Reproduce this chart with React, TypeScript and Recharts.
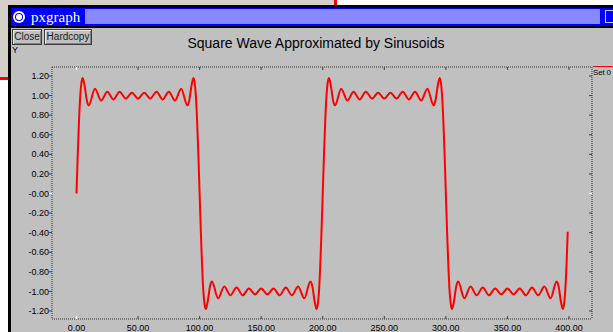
import React from 'react'
import { LineChart, Line, XAxis, YAxis } from 'recharts'

// first high half-cycle (x 0..99)
const seg1X = [0, 1, 2, 3, 4, 5, 6, 7, 8, 9, 10, 15, 20, 25, 30, 35, 40, 45, 50, 55, 60, 65, 70, 75, 80, 85, 90, 91, 92, 93, 94, 95, 96, 97, 98, 99]
const seg1Y = [0.0, 0.39, 0.73, 0.99, 1.13, 1.18, 1.14, 1.07, 0.98, 0.92, 0.9, 1.07, 0.95, 1.04, 0.96, 1.04, 0.97, 1.03, 0.97, 1.03, 0.97, 1.04, 0.96, 1.04, 0.95, 1.07, 0.9, 0.92, 0.98, 1.07, 1.14, 1.18, 1.13, 0.99, 0.73, 0.39]

// first low half-cycle (x 100..199)
const seg2X = [100, 101, 102, 103, 104, 105, 106, 107, 108, 109, 110, 115, 120, 125, 130, 135, 140, 145, 150, 155, 160, 165, 170, 175, 180, 185, 190, 191, 192, 193, 194, 195, 196, 197, 198, 199]
const seg2Y = [0.0, -0.39, -0.73, -0.99, -1.13, -1.18, -1.14, -1.07, -0.98, -0.92, -0.9, -1.07, -0.95, -1.04, -0.96, -1.04, -0.97, -1.03, -0.97, -1.03, -0.97, -1.04, -0.96, -1.04, -0.95, -1.07, -0.9, -0.92, -0.98, -1.07, -1.14, -1.18, -1.13, -0.99, -0.73, -0.39]

// second high half-cycle (x 200..299)
const seg3X = [200, 201, 202, 203, 204, 205, 206, 207, 208, 209, 210, 215, 220, 225, 230, 235, 240, 245, 250, 255, 260, 265, 270, 275, 280, 285, 290, 291, 292, 293, 294, 295, 296, 297, 298, 299]
const seg3Y = [0.0, 0.39, 0.73, 0.99, 1.13, 1.18, 1.14, 1.07, 0.98, 0.92, 0.9, 1.07, 0.95, 1.04, 0.96, 1.04, 0.97, 1.03, 0.97, 1.03, 0.97, 1.04, 0.96, 1.04, 0.95, 1.07, 0.9, 0.92, 0.98, 1.07, 1.14, 1.18, 1.13, 0.99, 0.73, 0.39]

// second low half-cycle (x 300..399)
const seg4X = [300, 301, 302, 303, 304, 305, 306, 307, 308, 309, 310, 315, 320, 325, 330, 335, 340, 345, 350, 355, 360, 365, 370, 375, 380, 385, 390, 391, 392, 393, 394, 395, 396, 397, 398, 399]
const seg4Y = [0.0, -0.39, -0.73, -0.99, -1.13, -1.18, -1.14, -1.07, -0.98, -0.92, -0.9, -1.07, -0.95, -1.04, -0.96, -1.04, -0.97, -1.03, -0.97, -1.03, -0.97, -1.04, -0.96, -1.04, -0.95, -1.07, -0.9, -0.92, -0.98, -1.07, -1.14, -1.18, -1.13, -0.99, -0.73, -0.39]

const xTicks = [0, 50, 100, 150, 200, 250, 300, 350, 400]
const xTickLabels = ['0.00', '50.00', '100.00', '150.00', '200.00', '250.00', '300.00', '350.00', '400.00']
const yTicks = [-1.2, -1.0, -0.8, -0.6, -0.4, -0.2, 0, 0.2, 0.4, 0.6, 0.8, 1.0, 1.2]
const yTickLabels = ['-1.20', '-1.00', '-0.80', '-0.60', '-0.40', '-0.20', '-0.00', '0.20', '0.40', '0.60', '0.80', '1.00', '1.20']

const title = 'Square Wave Approximated by Sinusoids'
const seriesName = 'Set 0'

const segments = [
  [seg1X, seg1Y],
  [seg2X, seg2Y],
  [seg3X, seg3Y],
  [seg4X, seg4Y],
]
const data = segments.flatMap(([xs, ys]) => xs.map((x, i) => ({ x, y: ys[i] })))

const sans = '"Liberation Sans", Arial, Helvetica, sans-serif'
const frame = { stroke: '#303030', strokeDasharray: '1 1' }
const X_DOMAIN: [number, number] = [-19.9, 418.7]
const Y_DOMAIN: [number, number] = [-1.282, 1.292]

// frame edges in px
const LEFT = 52
const RIGHT = 592
const TOP = 67
const BOTTOM = 319

const labelFor = (ticks: number[], labels: string[], v: number) => {
  const i = ticks.findIndex(t => Math.abs(t - v) < 1e-6)
  return i >= 0 ? labels[i] : ''
}

const BottomTick = (p: any) => {
  const v = p.payload.value
  return (
    <g>
      <line x1={p.x} x2={p.x} y1={BOTTOM} y2={BOTTOM - 3} stroke={v === 0 ? '#ffffff' : '#404040'} />
      <text x={p.x} y={331} textAnchor="middle" fontSize={9} fontFamily={sans} fill="#000">
        {labelFor(xTicks, xTickLabels, v)}
      </text>
    </g>
  )
}

const TopTick = (p: any) => {
  const v = p.payload.value
  return <line x1={p.x} x2={p.x} y1={TOP} y2={TOP + 3} stroke={v === 0 ? '#ffffff' : '#404040'} />
}

const LeftTick = (p: any) => {
  const v = p.payload.value
  return (
    <g>
      <line x1={LEFT - 3} x2={LEFT} y1={p.y} y2={p.y} stroke={Math.abs(v) < 1e-6 ? '#ffffff' : '#404040'} />
      <text x={LEFT - 3} y={p.y} dy="0.35em" textAnchor="end" fontSize={9} fontFamily={sans} fill="#000">
        {labelFor(yTicks, yTickLabels, v)}
      </text>
    </g>
  )
}

const RightTick = (p: any) => {
  const v = p.payload.value
  return <line x1={RIGHT - 3} x2={RIGHT} y1={p.y} y2={p.y} stroke={Math.abs(v) < 1e-6 ? '#ffffff' : '#404040'} />
}

const abs = (left: number, top: number, width: number, height: number, background: string): React.CSSProperties => ({
  position: 'absolute', left, top, width, height, background,
})

const buttonStyle = (left: number, width: number): React.CSSProperties => ({
  position: 'absolute',
  left,
  top: 29,
  width,
  height: 16,
  boxSizing: 'border-box',
  border: '1px solid #3c3c3c',
  boxShadow: 'inset 1px 1px 0 #e8e8e8, inset -1px -1px 0 #808080',
  background: '#c0c0c0',
  fontFamily: sans,
  fontSize: 10,
  lineHeight: '14px',
  textAlign: 'center',
  color: '#1a1a1a',
})

export default function App() {
  return (
    <div style={{ position: 'fixed', left: 0, top: 0, width: 613, height: 332, overflow: 'hidden', background: '#ffffff' }}>
      {/* desktop bits around the window */}
      <div style={abs(0, 0, 334, 5, '#d4d0c8')} />
      <div style={abs(334, 0, 3, 5, '#ff0000')} />
      <div style={abs(0, 0, 8, 77, '#d4d0c8')} />
      <div style={abs(0, 77, 8, 3, '#ff0000')} />

      {/* window */}
      <div style={abs(8, 5, 605, 327, '#000000')} />
      <div style={abs(11, 8, 602, 18, '#0000ff')} />
      {/* stippled title area, drawn as a lighter blue band */}
      <div style={{ ...abs(85, 9, 515, 15, '#8888ff'), zIndex: 2 }} />
      <div style={{ position: 'absolute', left: 13, top: 11, width: 12, height: 12, borderRadius: 6, background: '#ffffff' }} />
      <div style={{ position: 'absolute', left: 15, top: 13, width: 8, height: 8, borderRadius: 4, background: '#0000ff' }} />
      <div style={{ position: 'absolute', left: 16, top: 14, width: 6, height: 6, borderRadius: 3, background: '#ffffff' }} />
      <div
        style={{
          position: 'absolute', left: 31, top: 8, height: 18, lineHeight: '18px',
          fontFamily: '"Liberation Serif", "Times New Roman", serif', fontSize: 15, color: '#ffffff',
        }}
      >
        pxgraph
      </div>
      <div style={{ position: 'absolute', left: 605, top: 10, width: 10, height: 13, boxSizing: 'border-box', border: '1px solid #c8c8ff' }} />
      <div style={abs(11, 28, 602, 304, '#c0c0c0')} />

      <div style={buttonStyle(12, 30)}>Close</div>
      <div style={buttonStyle(44, 48)}>Hardcopy</div>
      <div style={{ position: 'absolute', left: 12, top: 45, fontFamily: sans, fontSize: 9, color: '#000' }}>Y</div>
      <div
        style={{
          position: 'absolute', left: 116, top: 35, width: 400, textAlign: 'center',
          fontFamily: sans, fontSize: 14, color: '#000',
        }}
      >
        {title}
      </div>

      <LineChart
        width={613}
        height={332}
        data={data}
        margin={{ top: 66, right: 20, bottom: 0, left: 12 }}
        style={{ position: 'absolute', left: 0, top: 0 }}
      >
        <XAxis xAxisId="b" dataKey="x" type="number" domain={X_DOMAIN} allowDataOverflow ticks={xTicks} interval={0}
          height={13} axisLine={frame} tickLine={false} tickSize={0} tick={BottomTick} />
        <XAxis xAxisId="t" orientation="top" dataKey="x" type="number" domain={X_DOMAIN} allowDataOverflow ticks={xTicks} interval={0}
          height={1} axisLine={frame} tickLine={false} tickSize={0} tick={TopTick} />
        <YAxis yAxisId="l" type="number" domain={Y_DOMAIN} allowDataOverflow ticks={yTicks} interval={0}
          width={40} axisLine={frame} tickLine={false} tickSize={0} tick={LeftTick} />
        <YAxis yAxisId="r" orientation="right" type="number" domain={Y_DOMAIN} allowDataOverflow ticks={yTicks} interval={0}
          width={1} axisLine={frame} tickLine={false} tickSize={0} tick={RightTick} />
        <Line xAxisId="t" yAxisId="r" dataKey="y" stroke="none" dot={false} activeDot={false} isAnimationActive={false} />
        <Line xAxisId="b" yAxisId="l" dataKey="y" name={seriesName} type="monotone" stroke="#ff0000" strokeWidth={2}
          dot={false} activeDot={false} isAnimationActive={false} />
      </LineChart>

      {/* series legend at the right screen edge */}
      <div style={abs(593, 66, 30, 1, '#ff0000')} />
      <div style={{ position: 'absolute', left: 593, top: 68, fontFamily: sans, fontSize: 8, letterSpacing: -0.2, color: '#000', whiteSpace: 'nowrap' }}>
        {seriesName}
      </div>
    </div>
  )
}
